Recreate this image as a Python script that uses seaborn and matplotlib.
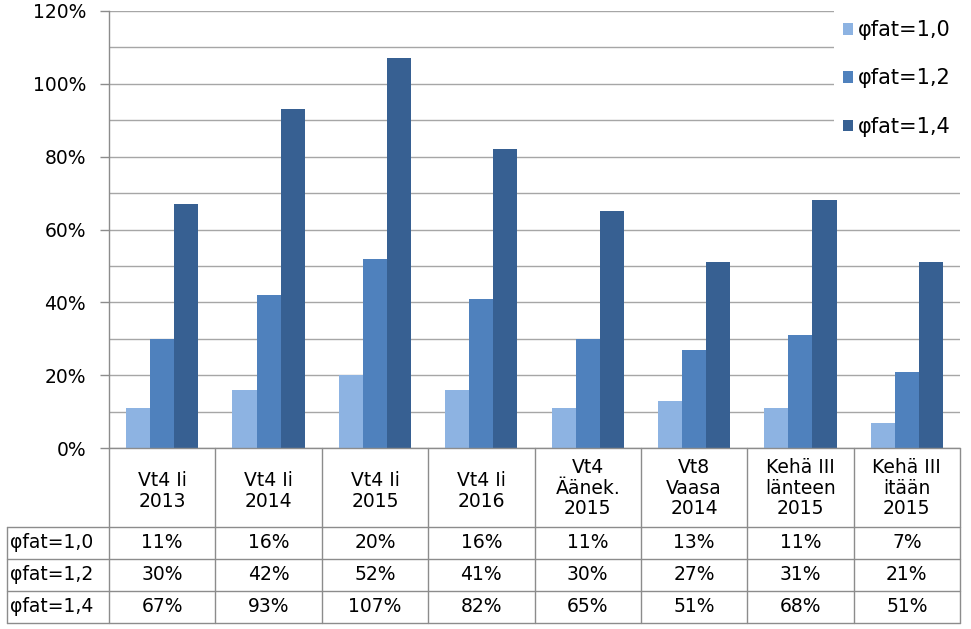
import matplotlib
matplotlib.use("Agg")
import matplotlib.pyplot as plt
from matplotlib.lines import Line2D
from matplotlib.transforms import blended_transform_factory
import seaborn as sns
import pandas as pd
import numpy as np

categories = ["Vt4 Ii\n2013", "Vt4 Ii\n2014", "Vt4 Ii\n2015", "Vt4 Ii\n2016",
              "Vt4\nÄänek.\n2015", "Vt8\nVaasa\n2014", "Kehä III\nlänteen\n2015",
              "Kehä III\nitään\n2015"]
series_names = ["φfat=1,0", "φfat=1,2", "φfat=1,4"]
phi10 = [11, 16, 20, 16, 11, 13, 11, 7]
phi12 = [30, 42, 52, 41, 30, 27, 31, 21]
phi14 = [67, 93, 107, 82, 65, 51, 68, 51]
yticks = [0, 20, 40, 60, 80, 100, 120]
colors = ["#8DB3E2", "#4F81BD", "#376092"]

series_vals = [phi10, phi12, phi14]
rows = []
for name, vals in zip(series_names, series_vals):
    for c, v in zip(categories, vals):
        rows.append({"cat": c, "series": name, "value": v / 100})
df = pd.DataFrame(rows)

sns.set_style("white")
plt.rcParams['font.family'] = ['DejaVu Sans']
plt.rcParams['text.color'] = 'black'
FS = 13.5
LFS = 15

W, H = 971, 629
fig = plt.figure(figsize=(W / 100, H / 100), dpi=100)
L, R, T, B = 109, 960, 11, 448
ax = fig.add_axes([L / W, 1 - B / H, (R - L) / W, (B - T) / H])

sns.barplot(data=df, x="cat", y="value", hue="series", order=categories,
            hue_order=series_names, palette=colors, width=0.68, saturation=1,
            ax=ax, edgecolor="none", linewidth=0)

ax.set_xlim(-0.5, len(categories) - 0.5)
ax.set_ylim(0, 1.2)
ax.set_yticks([t / 100 for t in yticks])
ax.set_yticklabels([f"{t}%" for t in yticks], fontsize=FS, color="black")
ax.set_yticks(np.arange(0.1, 1.2, 0.2), minor=True)
ax.tick_params(axis="y", which="major", length=6.5, width=1, color="#8C8C8C",
               direction="out", pad=10, left=True, labelcolor="black")
ax.tick_params(axis="y", which="minor", length=0)
ax.set_xticks([])
ax.set_xlabel("")
ax.set_ylabel("")
ax.grid(True, axis="y", which="both", color="#A6A6A6", linewidth=1)
ax.set_axisbelow(True)
for s in ["top", "right", "bottom"]:
    ax.spines[s].set_visible(False)
ax.spines["left"].set_color("#8C8C8C")
ax.spines["left"].set_linewidth(1)

leg = ax.legend(loc="upper right", bbox_to_anchor=(1.0, 1.0), fontsize=LFS,
                frameon=True, fancybox=False, framealpha=1, facecolor="white",
                edgecolor="white", handlelength=0.45, handleheight=0.45,
                handletextpad=0.25, labelspacing=1.35, borderpad=0.45,
                borderaxespad=0.0)
leg.get_frame().set_linewidth(0)
for t in leg.get_texts():
    t.set_color("black")

# data table below the axis
bx = blended_transform_factory(ax.transData, fig.transFigure)
fy = lambda py: 1 - py / H
fx = lambda px: px / W
lc = "#8C8C8C"
row_y = [448, 527, 559, 591, 623]
n = len(categories)
fig.add_artist(Line2D([fx(L), fx(R)], [fy(448), fy(448)], color=lc, lw=1))
for py in row_y[1:]:
    fig.add_artist(Line2D([fx(7), fx(R)], [fy(py), fy(py)], color=lc, lw=1))
for i in range(n + 1):
    fig.add_artist(Line2D([i - 0.5, i - 0.5], [fy(448), fy(623)], color=lc,
                          lw=1, transform=bx))
fig.add_artist(Line2D([fx(7), fx(7)], [fy(527), fy(623)], color=lc, lw=1))

for i, c in enumerate(categories):
    nl = c.count("\n") + 1
    yc = 491 if nl == 2 else 488
    fig.text(i, fy(yc), c, transform=bx, ha="center",
             va="center", fontsize=FS, linespacing=1.1, multialignment="center",
             color="black")
for r, (name, vals) in enumerate(zip(series_names, series_vals)):
    yc = fy((row_y[r + 1] + row_y[r + 2]) / 2)
    fig.text(fx(10), yc, name, ha="left", va="center", fontsize=FS, color="black")
    for i, v in enumerate(vals):
        fig.text(i, yc, f"{v}%", transform=bx, ha="center", va="center",
                 fontsize=FS, color="black")

fig.savefig("out.png", dpi=100)
